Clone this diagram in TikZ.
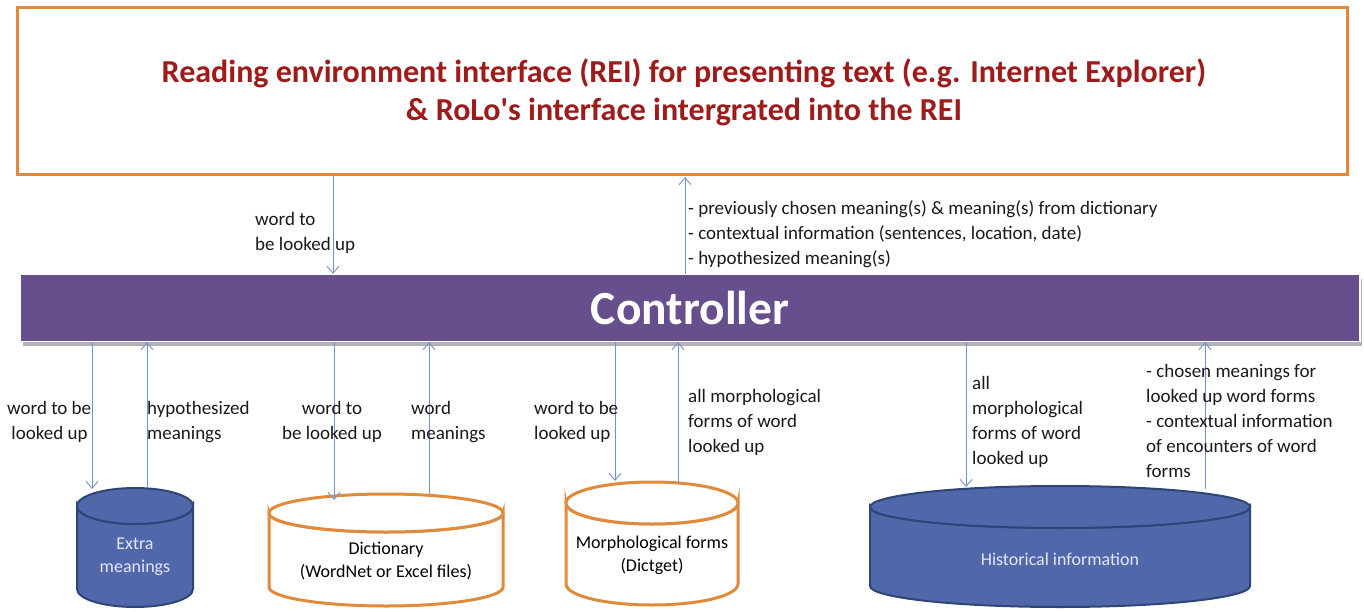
\documentclass[tikz,border=0pt]{standalone}
\usepackage{fontspec}
\setmainfont{Carlito}
\usetikzlibrary{arrows.meta}
\definecolor{orng}{HTML}{E08A3C}
\definecolor{dred}{HTML}{9E1B1B}
\definecolor{purp}{HTML}{674F8E}
\definecolor{arrblue}{HTML}{7391D0}
\definecolor{cylblue}{HTML}{5068A9}
\definecolor{cyledge}{HTML}{2F4577}
\tikzset{
  arr/.style={draw=arrblue, line width=0.9pt, -{Straight Barb[length=7pt,width=12pt,line width=0.9pt]}},
  lbl/.style={font=\fontsize{19}{25}\selectfont, align=left, anchor=north west, inner sep=0pt, text=black!90},
  bluecyl/.style={fill=cylblue, draw=cyledge, line width=2pt},
  orcyl/.style={fill=white, draw=orng, line width=3pt},
  cyltext/.style={font=\fontsize{18}{23}\selectfont, align=center, inner sep=0pt},
}
\begin{document}
\begin{tikzpicture}[x=1pt,y=-1pt]
\useasboundingbox (0,0) rectangle (1364,612);
% top box
\draw[orng, line width=3pt] (17,8) rectangle (1347,175);
\node[font=\fontsize{32}{38}\selectfont\bfseries, text=dred, align=center] (rei) at (684,92)
  {Reading environment interface (REI) for presenting text (e.g. Internet Explorer)\\ \& RoLo\textquotesingle s interface intergrated into the REI};
% controller
\fill[black!30] (23,279) rectangle (1362,346);
\node[fill=purp, draw=white, line width=1.2pt, minimum width=1340pt, minimum height=67pt, inner sep=0pt,
  text=white, font=\fontsize{47.5}{50}\selectfont\bfseries] (ctrl) at (690,308) {Controller};

% top connectors
\coordinate (t1) at (333,175);
\draw[arr] (t1) -- (ctrl.north -| t1);
\coordinate (t2) at (685,177);
\draw[arr] (ctrl.north -| t2) -- (t2);
\node[lbl] (lt1) at (255,212) {word to\\be looked up};
\node[lbl] (lt2) at (688,200) {- previously chosen meaning(s) \& meaning(s) from dictionary\\- contextual information (sentences, location, date)\\- hypothesized meaning(s)};

% cylinders
% Extra meanings
\draw[bluecyl] (77,506) -- (77,589) arc[start angle=180,end angle=0,x radius=58,y radius=18] -- (193,506) arc[start angle=0,end angle=180,x radius=58,y radius=18] -- cycle;
\draw[bluecyl] (135,506) ellipse[x radius=58, y radius=18];
\node[cyltext, text=white!90!blue] (em) at (135,557) {Extra\\meanings};
% Dictionary
\draw[orcyl] (269,513) -- (269,587) arc[start angle=180,end angle=0,x radius=117,y radius=19] -- (503,513) arc[start angle=0,end angle=180,x radius=117,y radius=19] -- cycle;
\draw[orcyl] (386,513) ellipse[x radius=117, y radius=19];
\node[cyltext] (dict) at (386,561) {Dictionary\\(WordNet or Excel files)};
% Morphological forms
\draw[orcyl] (566,503) -- (566,584) arc[start angle=180,end angle=0,x radius=86,y radius=21] -- (738,503) arc[start angle=0,end angle=180,x radius=86,y radius=21] -- cycle;
\draw[orcyl] (652,503) ellipse[x radius=86, y radius=21];
\node[cyltext] (morph) at (652,555) {Morphological forms\\(Dictget)};
% Historical information
\draw[bluecyl] (870,507) -- (870,586) arc[start angle=180,end angle=0,x radius=190,y radius=21] -- (1250,507) arc[start angle=0,end angle=180,x radius=190,y radius=21] -- cycle;
\draw[bluecyl] (1060,507) ellipse[x radius=190, y radius=21];
\node[cyltext, text=white!90!blue] (hist) at (1060,559) {Historical information};

% bottom connectors
\coordinate (b1) at (92,489);
\coordinate (b2) at (147,488);
\coordinate (b3) at (334,500);
\coordinate (b4) at (429,494);
\coordinate (b5) at (615,481);
\coordinate (b6) at (678,483);
\coordinate (b7) at (966,487);
\coordinate (b8) at (1205,489);
\draw[arr] (ctrl.south -| b1) -- (b1);
\draw[arr] (b2) -- (ctrl.south -| b2);
\draw[arr] (ctrl.south -| b3) -- (b3);
\draw[arr] (b4) -- (ctrl.south -| b4);
\draw[arr] (ctrl.south -| b5) -- (b5);
\draw[arr] (b6) -- (ctrl.south -| b6);
\draw[arr] (ctrl.south -| b7) -- (b7);
\draw[arr] (b8) -- (ctrl.south -| b8);

\node[lbl] (l1) at (7,401) {word to be\\\ looked up};
\node[lbl] (l2) at (147,401) {hypothesized\\meanings};
\node[lbl, align=center, anchor=north] (l3) at (332,401) {word to\\be looked up};
\node[lbl] (l4) at (411,401) {word\\meanings};
\node[lbl] (l5) at (534,401) {word to be\\looked up};
\node[lbl] (l6) at (688,389) {all morphological\\forms of word\\looked up};
\node[lbl] (l7) at (972,376) {all\\morphological\\forms of word\\looked up};
\node[lbl] (l8) at (1146,364) {- chosen meanings for\\looked up word forms\\- contextual information\\of encounters of word\\forms};
\end{tikzpicture}
\end{document}
